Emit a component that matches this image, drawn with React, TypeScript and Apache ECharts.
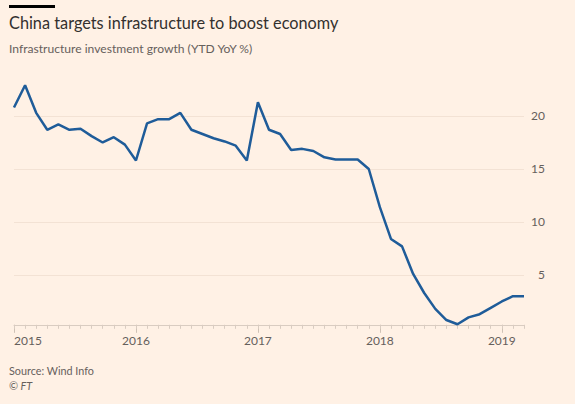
import React, { useEffect, useRef } from "react";
import * as echarts from "echarts";

const years = ["2015", "2016", "2017", "2018", "2019"];
const monthsPerYear = ["Feb", "Mar", "Apr", "May", "Jun", "Jul", "Aug", "Sep", "Oct", "Nov", "Dec"];
const months2019 = ["Feb", "Mar", "Apr"];

const values2015 = [20.8, 22.9, 20.3, 18.7, 19.2, 18.7, 18.8, 18.1, 17.5, 18.0, 17.3];
const values2016 = [15.8, 19.3, 19.7, 19.7, 20.3, 18.7, 18.3, 17.9, 17.6, 17.2, 15.8];
const values2017 = [21.3, 18.7, 18.3, 16.8, 16.9, 16.7, 16.1, 15.9, 15.9, 15.9, 15.0];
const values2018 = [11.4, 8.4, 7.7, 5.1, 3.3, 1.8, 0.75, 0.35, 1.0, 1.3, 1.9];
const values2019 = [2.5, 3.0, 3.0];

const yTicks = [5, 10, 15, 20];

const TEXT = "#66605c";
const FONT = "Lato, 'Open Sans', sans-serif";

export default function App() {
  const ref = useRef<HTMLDivElement>(null);

  useEffect(() => {
    if (!ref.current) return;
    const chart = echarts.init(ref.current, undefined, { renderer: "svg" });

    const categories: string[] = [];
    years.forEach((y, i) => {
      const ms = i === years.length - 1 ? months2019 : monthsPerYear;
      ms.forEach((m) => categories.push(`${m} ${y}`));
    });
    const values = [...values2015, ...values2016, ...values2017, ...values2018, ...values2019];
    const isYearStart = (idx: number) => idx % 11 === 0;

    chart.setOption({
      animation: false,
      backgroundColor: "#fff1e5",
      textStyle: { fontFamily: FONT },
      graphic: [
        { type: "rect", left: 9, top: 5, shape: { width: 46, height: 3 }, style: { fill: "#000" } },
        {
          type: "text",
          left: 9,
          top: 14,
          style: { text: "China targets infrastructure to boost economy", fill: "#33302e", font: `16.3px ${FONT}` },
        },
        {
          type: "text",
          left: 9,
          top: 42,
          style: { text: "Infrastructure investment growth (YTD YoY %)", fill: TEXT, font: `12.1px ${FONT}` },
        },
        {
          type: "text",
          left: 9,
          top: 365,
          style: { text: "Source: Wind Info", fill: TEXT, font: `10.8px ${FONT}` },
        },
        {
          type: "text",
          left: 9,
          top: 380,
          style: { text: "© FT", fill: TEXT, font: `italic 10.8px ${FONT}` },
        },
      ],
      grid: { left: 14, right: 51, top: 63, bottom: 79.2, containLabel: false },
      xAxis: [
        {
          type: "category",
          data: categories,
          boundaryGap: false,
          axisLine: { show: true, lineStyle: { color: "#d9ccc1", width: 1 } },
          axisTick: {
            show: true,
            interval: (idx: number) => isYearStart(idx),
            length: 8,
            lineStyle: { color: "#cfc2b6" },
          },
          axisLabel: {
            interval: (idx: number) => isYearStart(idx),
            formatter: (v: string) => v.split(" ")[1],
            color: TEXT,
            fontSize: 12,
            margin: 10,
            alignMinLabel: "left",
          },
          splitLine: { show: false },
        },
        {
          type: "category",
          data: categories,
          boundaryGap: false,
          position: "bottom",
          axisLine: { show: false },
          axisTick: { show: true, interval: 0, length: 4, lineStyle: { color: "#d9ccc1" } },
          axisLabel: { show: false },
          splitLine: { show: false },
        },
      ],
      yAxis: {
        type: "value",
        position: "right",
        min: 0.3,
        max: 25,
        splitNumber: 5,
        axisLine: { show: false },
        axisTick: { show: false },
        axisLabel: {
          color: TEXT,
          fontSize: 12,
          align: "right",
          margin: 21,
          showMinLabel: false,
          showMaxLabel: false,
          formatter: (v: number) => (yTicks.includes(v) ? String(v) : ""),
        },
        splitLine: {
          show: true,
          showMinLine: false,
          showMaxLine: false,
          lineStyle: { color: "#f3e2d4", width: 1 },
        },
      },
      series: [
        {
          type: "line",
          data: values,
          xAxisIndex: 0,
          showSymbol: false,
          symbol: "none",
          lineStyle: { color: "#1f5c99", width: 2.5 },
          z: 5,
        },
      ],
    });

    return () => chart.dispose();
  }, []);

  return (
    <div
      ref={ref}
      style={{ position: "fixed", left: 0, top: 0, width: 575, height: 404 }}
    />
  );
}
